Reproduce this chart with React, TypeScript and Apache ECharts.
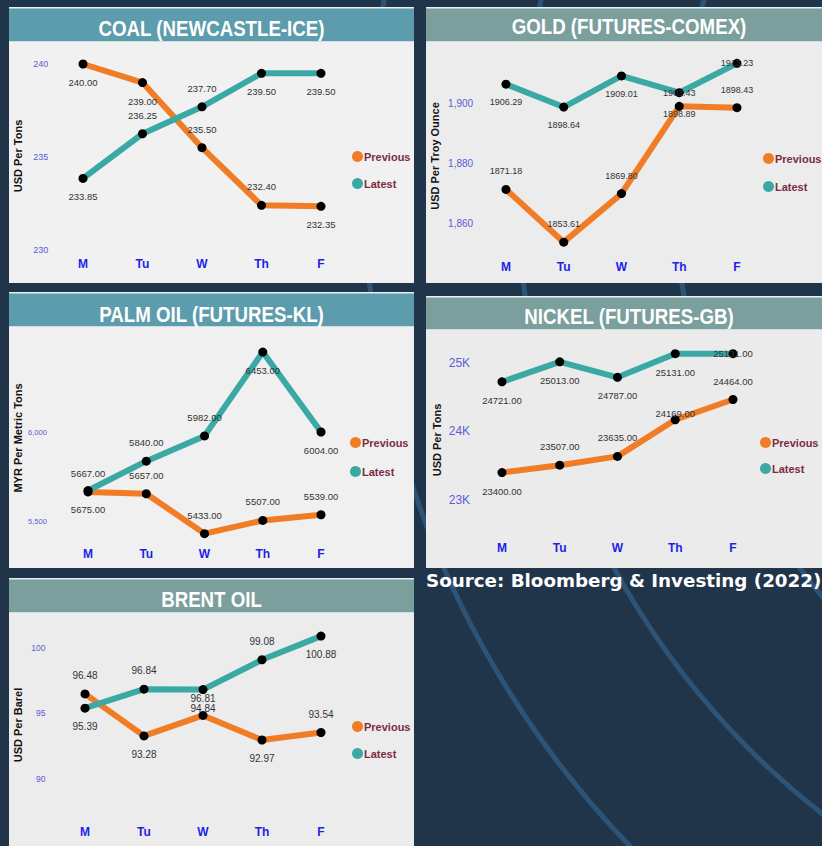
import React, { useEffect, useRef } from 'react';
import * as echarts from 'echarts';

// ---------- data ----------
const days = ['M', 'Tu', 'W', 'Th', 'F'];
const seriesNames = ['Previous', 'Latest'];

const coalPrevious = [240.0, 239.0, 235.5, 232.4, 232.35];
const coalLatest = [233.85, 236.25, 237.7, 239.5, 239.5];
const coalPreviousPos = ['bottom', 'bottom', 'top', 'top', 'bottom'];
const coalLatestPos = ['bottom', 'top', 'top', 'bottom', 'bottom'];
const coalTicks = [230, 235, 240];
const coalTickLabels = ['230', '235', '240'];

const goldPrevious = [1871.18, 1853.61, 1869.8, 1898.89, 1898.43];
const goldLatest = [1906.29, 1898.64, 1909.01, 1903.43, 1913.23];
const goldPreviousPos = ['top', 'top', 'top', 'bottom-near', 'top'];
const goldLatestPos = ['bottom', 'bottom', 'bottom', 'inside', 'inside'];
const goldTicks = [1860, 1880, 1900];
const goldTickLabels = ['1,860', '1,880', '1,900'];

const palmPrevious = [5667, 5657, 5433, 5507, 5539];
const palmLatest = [5675, 5840, 5982, 6453, 6004];
const palmPreviousPos = ['top', 'top', 'top', 'top', 'top'];
const palmLatestPos = ['bottom', 'top', 'top', 'bottom', 'bottom'];
const palmTicks = [5500, 6000];
const palmTickLabels = ['5,500', '6,000'];

const nickelPrevious = [23400, 23507, 23635, 24169, 24464];
const nickelLatest = [24721, 25013, 24787, 25131, 25131];
const nickelPreviousPos = ['bottom', 'top', 'top', 'top-near', 'top'];
const nickelLatestPos = ['bottom', 'bottom', 'bottom', 'bottom', 'inside'];
const nickelTicks = [23000, 24000, 25000];
const nickelTickLabels = ['23K', '24K', '25K'];

const brentPrevious = [96.48, 93.28, 94.84, 92.97, 93.54];
const brentLatest = [95.39, 96.84, 96.81, 99.08, 100.88];
const brentPreviousPos = ['top', 'bottom', 'top-near', 'bottom', 'top'];
const brentLatestPos = ['bottom', 'top', 'bottom-near', 'top', 'bottom'];
const brentTicks = [90, 95, 100];
const brentTickLabels = ['90', '95', '100'];

const sourceText = 'Source: Bloomberg & Investing (2022)';

// ---------- styles / layout ----------
const ORANGE = '#f07c26';
const TEAL = '#3aa9a6';
const SANS = "'Liberation Sans', Arial, sans-serif";
const BG = '#21354a';
const ARC = '#2d5476';

const panels = [
  {
    title: 'COAL (NEWCASTLE-ICE)', axisName: 'USD Per Tons',
    prev: coalPrevious, latest: coalLatest, prevPos: coalPreviousPos, latestPos: coalLatestPos,
    ticks: coalTicks, tickLabels: coalTickLabels,
    rect: { x: 9, y: 7, w: 405, h: 276, th: 35 }, titleColor: '#5c9cac', plotColor: '#f1f1f1',
    titleY: 28, nameX: 18, nameY: 156,
    grid: { left: 53.25, top: 64, width: 297.5, height: 186 },
    yMin: 230, yMax: 240, yInterval: 5, yMargin: 5, yFont: 9, xMargin: 8, labelFont: 9.5,
    legend: { left: 347, top: 146, gap: 16 },
  },
  {
    title: 'GOLD (FUTURES-COMEX)', axisName: 'USD Per Troy Ounce',
    prev: goldPrevious, latest: goldLatest, prevPos: goldPreviousPos, latestPos: goldLatestPos,
    ticks: goldTicks, tickLabels: goldTickLabels,
    rect: { x: 426, y: 7, w: 412, h: 276, th: 35 }, titleColor: '#7a9f9d', plotColor: '#ececec',
    titleY: 26, nameX: 435, nameY: 156,
    grid: { left: 477.1, top: 43, width: 288.75, height: 210 },
    yMin: 1850, yMax: 1920, yInterval: 10, yMargin: 4, yFont: 10, xMargin: 8, labelFont: 9,
    legend: { left: 758, top: 148, gap: 17 },
  },
  {
    title: 'PALM OIL (FUTURES-KL)', axisName: 'MYR Per Metric Tons',
    prev: palmPrevious, latest: palmLatest, prevPos: palmPreviousPos, latestPos: palmLatestPos,
    ticks: palmTicks, tickLabels: palmTickLabels,
    rect: { x: 9, y: 292, w: 405, h: 276, th: 35 }, titleColor: '#5c9cac', plotColor: '#f0f0f0',
    titleY: 314, nameX: 18, nameY: 438,
    grid: { left: 58.9, top: 343.7, width: 291.25, height: 195.8 },
    yMin: 5400, yMax: 6500, yInterval: 100, yMargin: 12, yFont: 7.5, xMargin: 8, labelFont: 9.5,
    legend: { left: 345, top: 432, gap: 18 },
  },
  {
    title: 'NICKEL (FUTURES-GB)', axisName: 'USD Per Tons',
    prev: nickelPrevious, latest: nickelLatest, prevPos: nickelPreviousPos, latestPos: nickelLatestPos,
    ticks: nickelTicks, tickLabels: nickelTickLabels,
    rect: { x: 426, y: 296, w: 412, h: 272, th: 34 }, titleColor: '#7a9f9d', plotColor: '#ebebeb',
    titleY: 316, nameX: 437, nameY: 440,
    grid: { left: 473.1, top: 328.4, width: 288.75, height: 205.9 },
    yMin: 22500, yMax: 25500, yInterval: 500, yMargin: 3, yFont: 12, xMargin: 8, labelFont: 9.5,
    legend: { left: 755, top: 432, gap: 15 },
  },
  {
    title: 'BRENT OIL', axisName: 'USD Per Barel',
    prev: brentPrevious, latest: brentLatest, prevPos: brentPreviousPos, latestPos: brentLatestPos,
    ticks: brentTicks, tickLabels: brentTickLabels,
    rect: { x: 9, y: 578, w: 405, h: 280, th: 35 }, titleColor: '#7a9f9d', plotColor: '#ececec',
    titleY: 599, nameX: 18, nameY: 725,
    grid: { left: 55.5, top: 621.4, width: 295, height: 197 },
    yMin: 87, yMax: 102, yInterval: 1, yMargin: 10, yFont: 8.5, xMargin: 8, labelFont: 10,
    legend: { left: 347, top: 716, gap: 16 },
  },
];

function labelFor(pos: string) {
  if (pos === 'top-near') return { position: 'top', distance: -3 };
  if (pos === 'bottom-near') return { position: 'bottom', distance: -1 };
  return { position: pos };
}

function buildOption() {
  const graphic: any[] = [];
  // background arcs
  [945, 792, 635].forEach((r) => {
    graphic.push({
      type: 'circle', silent: true,
      shape: { cx: 1310, cy: 190, r },
      style: { fill: 'none', stroke: ARC, lineWidth: 5 },
    });
  });
  panels.forEach((p) => {
    const { x, y, w, h, th } = p.rect;
    graphic.push({ type: 'rect', silent: true, shape: { x, y, width: w, height: h }, style: { fill: p.plotColor } });
    graphic.push({ type: 'rect', silent: true, shape: { x, y, width: w, height: th }, style: { fill: p.titleColor } });
    graphic.push({ type: 'rect', silent: true, shape: { x, y, width: w, height: 1.5 }, style: { fill: '#e6f0f2' } });
    graphic.push({ type: 'rect', silent: true, shape: { x, y: y + th - 1, width: w, height: 1 }, style: { fill: '#cddfe2' } });
    graphic.push({
      type: 'text', silent: true, x: x + w / 2 + (w > 406 ? -3 : 0), y: p.titleY, scaleX: 0.85,
      style: { text: p.title, fill: '#ffffff', font: `bold 22px ${SANS}`, align: 'center', verticalAlign: 'middle' },
    });
    graphic.push({
      type: 'text', silent: true, x: p.nameX, y: p.nameY, rotation: Math.PI / 2,
      style: { text: p.axisName, fill: '#111111', font: `bold 11px ${SANS}`, align: 'center', verticalAlign: 'middle' },
    });
  });
  graphic.push({
    type: 'text', silent: true, x: 426, y: 580,
    style: { text: sourceText, fill: '#ffffff', font: "bold 18.3px 'DejaVu Sans', sans-serif", align: 'left', verticalAlign: 'middle' },
  });

  const grid: any[] = [];
  const xAxis: any[] = [];
  const yAxis: any[] = [];
  const series: any[] = [];
  const legend: any[] = [];

  panels.forEach((p, i) => {
    grid.push({ ...p.grid, containLabel: false });
    xAxis.push({
      type: 'category', gridIndex: i, data: days, boundaryGap: true,
      axisLine: { show: false }, axisTick: { show: false }, splitLine: { show: false },
      axisLabel: { color: '#1f1fe6', fontWeight: 'bold', fontSize: 12, fontFamily: SANS, margin: p.xMargin },
    });
    yAxis.push({
      type: 'value', gridIndex: i, min: p.yMin, max: p.yMax, interval: p.yInterval,
      axisLine: { show: false }, axisTick: { show: false }, splitLine: { show: false },
      axisLabel: {
        color: '#5b5bd6', fontSize: p.yFont, fontFamily: SANS, margin: p.yMargin,
        formatter: (v: number) => {
          const k = p.ticks.indexOf(v);
          return k >= 0 ? p.tickLabels[k] : '';
        },
      },
    });
    const mk = (name: string, vals: number[], pos: string[], color: string) => ({
      name, type: 'line', xAxisIndex: i, yAxisIndex: i,
      data: vals.map((v, j) => ({ value: v, label: labelFor(pos[j]) })),
      symbol: 'circle', symbolSize: 9, clip: false,
      itemStyle: { color: '#000000' },
      lineStyle: { color, width: 6 },
      emphasis: { disabled: true },
      label: {
        show: true, distance: 9, color: '#333333', fontSize: p.labelFont, fontFamily: SANS,
        formatter: (d: any) => Number(d.value).toFixed(2),
      },
    });
    series.push(mk(seriesNames[0], p.prev, p.prevPos, ORANGE));
    series.push(mk(seriesNames[1], p.latest, p.latestPos, TEAL));
    legend.push({
      orient: 'vertical', left: p.legend.left, top: p.legend.top, itemGap: p.legend.gap,
      itemWidth: 11, itemHeight: 11, icon: 'circle', selectedMode: false,
      data: [
        { name: seriesNames[0], itemStyle: { color: ORANGE } },
        { name: seriesNames[1], itemStyle: { color: TEAL } },
      ],
      textStyle: { color: '#7b2d3f', fontSize: 11, fontWeight: 'bold', fontFamily: SANS, padding: [0, 0, 0, -4] },
    });
  });

  return {
    animation: false,
    backgroundColor: BG,
    tooltip: { show: false },
    graphic,
    grid, xAxis, yAxis, series, legend,
  };
}

export default function App() {
  const ref = useRef<HTMLDivElement>(null);
  useEffect(() => {
    if (!ref.current) return;
    const chart = echarts.init(ref.current, null, { renderer: 'svg' });
    chart.setOption(buildOption() as any);
    return () => chart.dispose();
  }, []);
  return <div ref={ref} style={{ position: 'absolute', left: 0, top: 0, width: 822, height: 846 }} />;
}
